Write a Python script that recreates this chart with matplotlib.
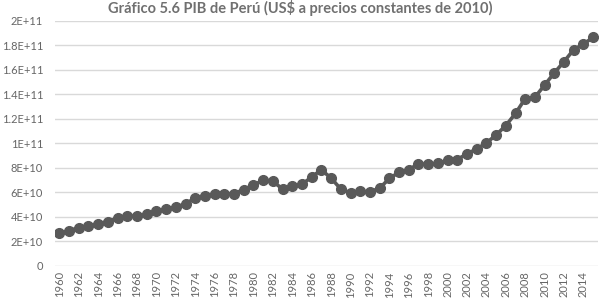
import matplotlib
matplotlib.use("Agg")
import matplotlib.pyplot as plt
from matplotlib.ticker import FixedLocator

years = list(range(1960, 2016))
gdp_billion = [26.5, 28.5, 31.1, 32.3, 34.3, 36.0, 39.0, 40.4, 40.6, 42.2,
               44.5, 46.4, 47.8, 50.5, 55.3, 57.3, 58.4, 58.6, 58.8, 62.2,
               65.9, 69.7, 69.1, 62.4, 64.8, 66.3, 72.5, 78.3, 71.4, 62.6,
               59.4, 60.7, 60.3, 63.3, 71.2, 76.3, 78.3, 83.2, 82.7, 83.5,
               86.0, 86.6, 91.4, 95.3, 100.2, 106.7, 114.4, 124.3, 136.4, 137.5,
               147.5, 157.4, 166.6, 176.4, 180.8, 186.5]
gdp = [v * 1e9 for v in gdp_billion]
y_ticks = [0, 2e10, 4e10, 6e10, 8e10, 1e11, 1.2e11, 1.4e11, 1.6e11, 1.8e11, 2e11]
y_labels = ["0", "2E+10", "4E+10", "6E+10", "8E+10", "1E+11", "1.2E+11",
            "1.4E+11", "1.6E+11", "1.8E+11", "2E+11"]
x_ticks = list(range(1960, 2015, 2))
title = "Gráfico 5.6 PIB de Perú (US$ a precios constantes de 2010)"

plt.rcParams['font.family'] = ['Lato', 'DejaVu Sans']
fig = plt.figure(figsize=(6, 3.05), dpi=100)
ax = fig.add_axes([55/600, 1 - 265.7/305, (598-55)/600, (265.7-20.7)/305])

ax.plot(years, gdp, color="#595959", lw=2.6, marker="o", ms=7,
        markerfacecolor="#595959", markeredgecolor="#595959", zorder=3)

ax.set_xlim(1959.55, 2015.5)
ax.set_ylim(0, 2e11)
ax.yaxis.set_major_locator(FixedLocator(y_ticks))
ax.set_yticklabels(y_labels)
ax.set_xticks(x_ticks)
ax.set_xticklabels([str(y) for y in x_ticks], rotation=90)
ax.grid(axis="y", color="#d9d9d9", lw=1.0)
ax.set_axisbelow(True)
for s in ax.spines.values():
    s.set_visible(False)
ax.tick_params(axis="both", length=0, colors="#666666", labelsize=8)
ax.tick_params(axis="y", pad=8.5)
ax.tick_params(axis="x", pad=4)

fig.text(300/600, 1 - 13/305, title, ha="center", va="baseline", fontsize=10.5,
         fontweight="bold", color="#707070")

fig.savefig("out.png", dpi=100)
